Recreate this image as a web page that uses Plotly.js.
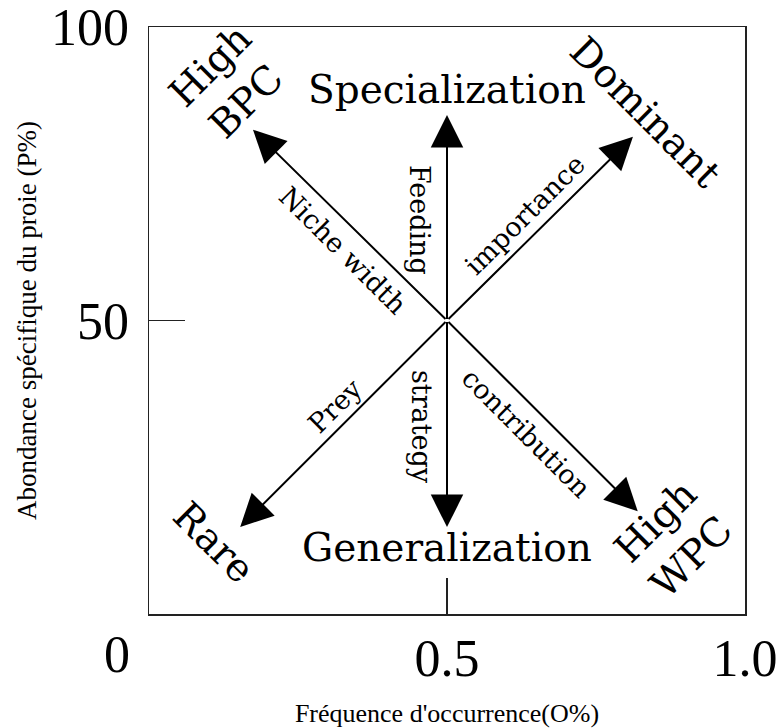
<!DOCTYPE html>
<html>
<head>
<meta charset="utf-8">
<script src="https://cdn.plot.ly/plotly-3.0.1.min.js"></script>
<style>html,body{margin:0;padding:0;background:#fff;}#chart{width:781px;height:728px;}</style>
</head>
<body>
<div id="chart"></div>
<script>
// ---- data ----
var xTickVals = [0.5, 1.0];
var xTickText = ['0.5', '1.0'];
var yTickVals = [50, 100];
var yTickText = ['50', '100'];
var originLabel = '0';
var xTitle = "Fréquence d'occurrence(O%)";
var yTitle = 'Abondance spécifique du proie (P%)';

// arrows: all start at the centre point
var centerX = 0.5;
var centerY = 50;
var arrowTipX = [0.5, 0.5, 0.1745, 0.812, 0.153, 0.820];
var arrowTipY = [85.0, 14.8, 82.5, 81.3, 14.8, 17.5];

// corner / pole labels
var poleText = ['Specialization', 'Generalization', 'High<br>BPC', 'Dominant', 'Rare', 'High<br>WPC'];
var poleX = [0.5, 0.5, 0.134, 0.834, 0.109, 0.880];
var poleY = [89.3, 11.4, 90.4, 85.5, 12.1, 12.8];
var poleAngle = [0, 0, -45, 45, 45, -45];

// arrow-side labels
var axisText = ['Niche width', 'Feeding', 'importance', 'Prey', 'strategy', 'contribution'];
var axisX = [0.326, 0.455, 0.631, 0.312, 0.456, 0.634];
var axisY = [62.0, 67.1, 68.0, 35.6, 31.9, 30.8];
var axisAngle = [45, 90, -45, -45, 90, 45];

// ---- build ----
var serif = 'Liberation Serif, Times New Roman, serif';
var labelFont = 'DejaVu Serif, serif';
var ann = [];
for (var i = 0; i < arrowTipX.length; i++) {
  ann.push({
    x: arrowTipX[i], y: arrowTipY[i], xref: 'x', yref: 'y',
    ax: centerX, ay: centerY, axref: 'x', ayref: 'y',
    text: '', showarrow: true, arrowhead: 2, arrowsize: 3.25, arrowwidth: 2,
    arrowcolor: '#000', standoff: 0
  });
}
for (var j = 0; j < poleText.length; j++) {
  ann.push({
    x: poleX[j], y: poleY[j], xref: 'x', yref: 'y', text: poleText[j],
    showarrow: false, textangle: poleAngle[j], xanchor: 'center', yanchor: 'middle',
    font: {family: labelFont, size: 39, color: '#000'}
  });
}
for (var k = 0; k < axisText.length; k++) {
  ann.push({
    x: axisX[k], y: axisY[k], xref: 'x', yref: 'y', text: axisText[k],
    showarrow: false, textangle: axisAngle[k], xanchor: 'center', yanchor: 'middle',
    font: {family: labelFont, size: 27, color: '#000'}
  });
}
ann.push({
  x: 0, y: 0, xref: 'paper', yref: 'paper', text: originLabel, showarrow: false,
  xanchor: 'center', yanchor: 'middle', xshift: -32, yshift: -40,
  font: {family: serif, size: 52, color: '#000'}
});

var axisCommon = {
  showline: true, mirror: true, linecolor: '#222', linewidth: 1.5,
  showgrid: false, zeroline: false,
  ticks: 'inside', ticklen: 36, tickwidth: 1.5, tickcolor: '#222',
  ticklabeloverflow: 'allow',
  tickfont: {family: serif, size: 52, color: '#000'}
};

var layout = {
  width: 781, height: 728,
  margin: {l: 149, r: 36, t: 27, b: 114},
  paper_bgcolor: '#fff', plot_bgcolor: '#fff',
  showlegend: false,
  xaxis: Object.assign({}, axisCommon, {
    range: [0, 1], tickmode: 'array', tickvals: xTickVals, ticktext: xTickText,
    ticklabelstandoff: -2,
    title: {text: xTitle, font: {family: serif, size: 26, color: '#000'}, standoff: 24}
  }),
  yaxis: Object.assign({}, axisCommon, {
    range: [0, 100], tickmode: 'array', tickvals: yTickVals, ticktext: yTickText,
    ticklabelstandoff: 8,
    title: {text: yTitle, font: {family: serif, size: 27, color: '#000'}, standoff: 6}
  }),
  annotations: ann
};

Plotly.newPlot('chart', [{x: [centerX], y: [centerY], mode: 'markers', marker: {size: 1, color: 'rgba(0,0,0,0)'}, hoverinfo: 'skip'}], layout, {displayModeBar: false, staticPlot: true});
</script>
</body>
</html>
